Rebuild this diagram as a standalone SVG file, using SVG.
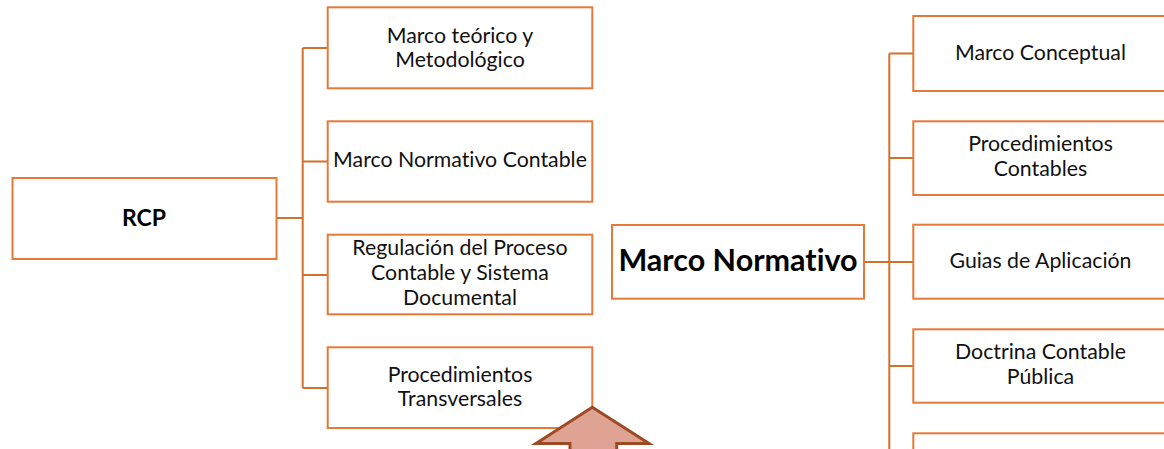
<svg xmlns="http://www.w3.org/2000/svg" width="1164" height="449" viewBox="0 0 1164 449">
<style>
.box{fill:#FFFFFF;stroke:#E57A38;stroke-width:2}
.con{fill:none;stroke:#D2702F;stroke-width:2}
.t{font-family:Lato,"Open Sans",sans-serif;font-size:21.3px;fill:#111;text-anchor:middle;font-variant-ligatures:none}
.b{font-family:Lato,"Open Sans",sans-serif;font-weight:bold;fill:#000;text-anchor:middle;font-variant-ligatures:none}
.arrow{fill:#DFA394;stroke:#9E4A25;stroke-width:3;stroke-linejoin:miter}
</style>
<rect width="1164" height="449" fill="#FFFFFF"/>
<g id="connectors">
<path class="con" d="M276.5,218 H302.7 M302.7,48 V388 M302.7,48 H327.7 M302.7,161.5 H327.7 M302.7,275 H327.7 M302.7,388 H327.7"/>
<path class="con" d="M864,262 H913.3 M889.3,53.5 V452 M889.3,53.5 H913.3 M889.3,158 H913.3 M889.3,366 H913.3"/>
</g>
<g id="rcp"><rect class="box" x="12.5" y="178" width="264" height="81"/><text class="b" x="144" y="226" font-size="23">RCP</text></g>
<g id="marco-teorico"><rect class="box" x="327.7" y="7.3" width="264.6" height="81"/><text class="t" x="460" y="42.7">Marco teórico y</text><text class="t" x="460" y="66.7">Metodológico</text></g>
<g id="marco-normativo-contable"><rect class="box" x="327.7" y="121.3" width="264.6" height="80.4"/><text class="t" x="460" y="166.7">Marco Normativo Contable</text></g>
<g id="regulacion"><rect class="box" x="327.7" y="234.7" width="264.6" height="79.6"/><text class="t" x="460" y="255">Regulación del Proceso</text><text class="t" x="460" y="280">Contable y Sistema</text><text class="t" x="460" y="305">Documental</text></g>
<g id="proc-transversales"><rect class="box" x="327.7" y="347.3" width="264.6" height="80.7"/><text class="t" x="460" y="381.7">Procedimientos</text><text class="t" x="460" y="405.7">Transversales</text></g>
<g id="marco-normativo"><rect class="box" x="612" y="225" width="252" height="73.7"/><text class="b" x="738" y="271" font-size="30.5">Marco Normativo</text></g>
<g id="marco-conceptual"><rect class="box" x="913.3" y="16" width="256" height="75"/><text class="t" x="1040.5" y="60">Marco Conceptual</text></g>
<g id="proc-contables"><rect class="box" x="913.3" y="121.3" width="256" height="73.7"/><text class="t" x="1040.5" y="150.7">Procedimientos</text><text class="t" x="1040.5" y="175.7">Contables</text></g>
<g id="guias"><rect class="box" x="913.3" y="224.7" width="256" height="74"/><text class="t" x="1040.5" y="268.3">Guias de Aplicación</text></g>
<g id="doctrina"><rect class="box" x="913.3" y="329.3" width="256" height="73.4"/><text class="t" x="1040.5" y="359">Doctrina Contable</text><text class="t" x="1040.5" y="384.3">Pública</text></g>
<g id="catalogo"><rect class="box" x="913.3" y="433.3" width="256" height="74"/></g>
<g id="arrow"><path class="arrow" d="M592.3,407.3 L649,443.5 H616.7 V460 H570 V443.5 H536 Z"/></g>
</svg>
